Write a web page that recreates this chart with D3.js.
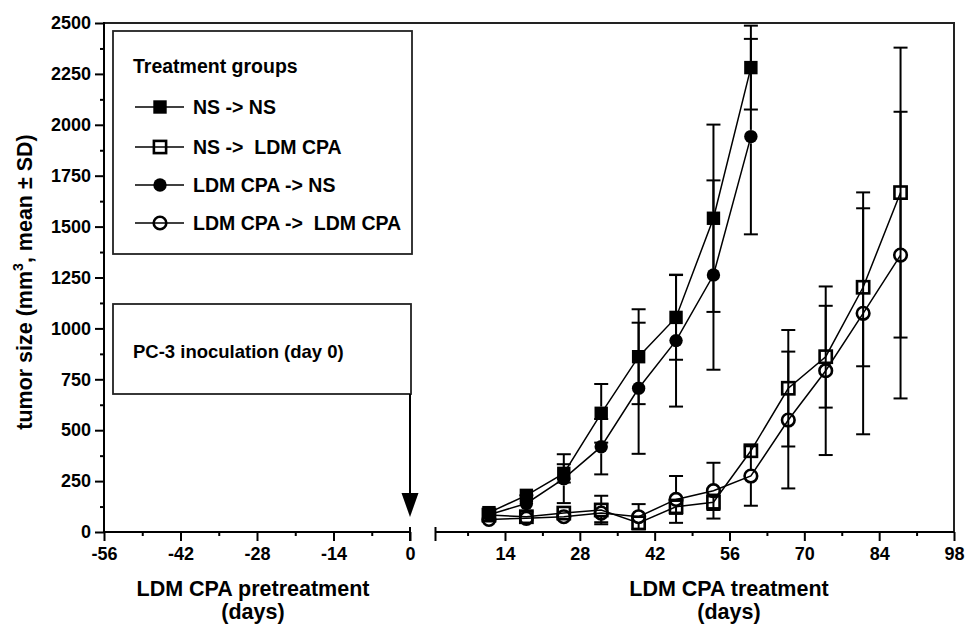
<!DOCTYPE html>
<html>
<head>
<meta charset="utf-8">
<script src="https://cdn.jsdelivr.net/npm/d3@7/dist/d3.min.js"></script>
<style>
  html, body { margin: 0; padding: 0; background: #fff; }
  svg text { font-family: "Liberation Sans", Arial, sans-serif; font-weight: bold; fill: #000; }
</style>
</head>
<body>
<div id="chart"></div>
<script>
// ---- data ----
const daysNS = [11, 18, 25, 32, 39, 46, 53, 60];
const daysLDM = [11, 18, 25, 32, 39, 46, 53, 60, 67, 74, 81, 88];

const nsNsMean = [95, 180, 288, 583, 861, 1054, 1541, 2281];
const nsNsSD = [20, 30, 45, 144, 233, 208, 460, 206];
const ldmNsMean = [85, 140, 262, 419, 706, 940, 1262, 1942];
const ldmNsSD = [15, 40, 120, 136, 322, 324, 465, 480];
const nsLdmMean = [83, 75, 93, 108, 45, 124, 146, 399, 706, 861, 1202, 1667];
const nsLdmSD = [20, 25, 25, 70, 20, 35, 38, 30, 286, 250, 388, 712];
const ldmLdmMean = [62, 67, 75, 93, 75, 160, 203, 275, 550, 792, 1074, 1360];
const ldmLdmSD = [15, 15, 20, 45, 62, 115, 137, 146, 336, 414, 594, 704];

const seriesNames = ["NS -> NS", "NS ->  LDM CPA", "LDM CPA -> NS", "LDM CPA ->  LDM CPA"];
const yTicks = [0, 250, 500, 750, 1000, 1250, 1500, 1750, 2000, 2250, 2500];
const preTicks = [-56, -42, -28, -14, 0];
const treatTicks = [14, 28, 42, 56, 70, 84, 98];

const series = [
    { name: seriesNames[0], days: daysNS, mean: nsNsMean, sd: nsNsSD, shape: "square", filled: true },
    { name: seriesNames[1], days: daysLDM, mean: nsLdmMean, sd: nsLdmSD, shape: "square", filled: false },
    { name: seriesNames[2], days: daysNS, mean: ldmNsMean, sd: ldmNsSD, shape: "circle", filled: true },
    { name: seriesNames[3], days: daysLDM, mean: ldmLdmMean, sd: ldmLdmSD, shape: "circle", filled: false }
];

const W = 965, H = 625;
const svg = d3.select("#chart").append("svg")
    .attr("width", W).attr("height", H);

// =============================
// SCALES
// =============================
const y = d3.scaleLinear().domain([0, 2500]).range([532, 23]);
const xPre = d3.scaleLinear().domain([-56, 0]).range([104, 410]);
const xTreat = d3.scaleLinear().domain([1, 98]).range([435.5, 954]);

const axisW = 2;
const plain = d => String(d);   // hyphen minus, no thousands separator

// =============================
// FRAME
// =============================
svg.append("path")
    .attr("d", `M104,${y(2500)}H954V532`)
    .attr("fill", "none").attr("stroke", "#222").attr("stroke-width", 2);

// =============================
// Y AXIS
// =============================
function styleAxis(g) {
    g.select(".domain").remove();
    g.selectAll("line").attr("stroke", "#000").attr("stroke-width", axisW);
    g.selectAll("text").style("font-size", "18px").attr("fill", "#000");
}

svg.append("g")
    .attr("transform", "translate(104,0)")
    .call(d3.axisLeft(y).tickValues(yTicks).tickSize(9).tickPadding(4).tickFormat(plain))
    .call(styleAxis);

svg.append("g")
    .attr("transform", "translate(104,0)")
    .call(d3.axisLeft(y).tickValues(yTicks.slice(0, -1).map(v => v + 125)).tickSize(4).tickFormat(""))
    .call(styleAxis);

svg.append("line")
    .attr("x1", 104).attr("x2", 104).attr("y1", y(2500) - 1).attr("y2", 533)
    .attr("stroke", "#000").attr("stroke-width", axisW);

// =============================
// X AXES (broken)
// =============================
const xAxisY = 532;

svg.append("g")
    .attr("transform", `translate(0,${xAxisY})`)
    .call(d3.axisBottom(xPre).tickValues(preTicks).tickSize(9).tickPadding(6).tickFormat(plain))
    .call(styleAxis);
svg.append("g")
    .attr("transform", `translate(0,${xAxisY})`)
    .call(d3.axisBottom(xPre).tickValues([-49, -35, -21, -7]).tickSize(4).tickFormat(""))
    .call(styleAxis);

svg.append("g")
    .attr("transform", `translate(0,${xAxisY})`)
    .call(d3.axisBottom(xTreat).tickValues(treatTicks).tickSize(9).tickPadding(6).tickFormat(plain))
    .call(styleAxis);
svg.append("g")
    .attr("transform", `translate(0,${xAxisY})`)
    .call(d3.axisBottom(xTreat).tickValues([7, 21, 35, 49, 63, 77, 91]).tickSize(4).tickFormat(""))
    .call(styleAxis);

// axis lines + end caps at the break
svg.append("line")
    .attr("x1", 103).attr("x2", xPre(0)).attr("y1", xAxisY).attr("y2", xAxisY)
    .attr("stroke", "#000").attr("stroke-width", axisW);
svg.append("line")
    .attr("x1", xTreat(1)).attr("x2", xTreat(98)).attr("y1", xAxisY).attr("y2", xAxisY)
    .attr("stroke", "#000").attr("stroke-width", axisW);
[xPre(0), xTreat(1)].forEach(px => {
    svg.append("line")
        .attr("x1", px).attr("x2", px).attr("y1", xAxisY - 5).attr("y2", xAxisY + 9)
        .attr("stroke", "#000").attr("stroke-width", axisW);
});

// =============================
// AXIS TITLES
// =============================
const yLab = svg.append("text")
    .attr("transform", "translate(32,282) rotate(-90)")
    .attr("text-anchor", "middle")
    .style("font-size", "21.5px");
yLab.append("tspan").text("tumor size (mm");
yLab.append("tspan").attr("dy", -9).style("font-size", "14px").text("3");
yLab.append("tspan").attr("dy", 9).text(", mean \u00B1 SD)");

svg.append("text").attr("x", 253).attr("y", 596).attr("text-anchor", "middle")
    .style("font-size", "21.5px").text("LDM CPA pretreatment");
svg.append("text").attr("x", 253).attr("y", 619).attr("text-anchor", "middle")
    .style("font-size", "21.5px").text("(days)");
svg.append("text").attr("x", 729).attr("y", 596).attr("text-anchor", "middle")
    .style("font-size", "21.5px").text("LDM CPA treatment");
svg.append("text").attr("x", 729).attr("y", 619).attr("text-anchor", "middle")
    .style("font-size", "21.5px").text("(days)");

// =============================
// MARKERS
// =============================
const half = 6.7;

function drawMarker(g, s, cx, cy) {
    if (s.shape === "square") {
        const h = s.filled ? half : half - 0.6;
        g.append("rect")
            .attr("x", cx - h).attr("y", cy - h)
            .attr("width", 2 * h).attr("height", 2 * h)
            .attr("fill", s.filled ? "#000" : "none")
            .attr("stroke", "#000")
            .attr("stroke-width", s.filled ? 0 : 2.6);
    } else {
        g.append("circle")
            .attr("cx", cx).attr("cy", cy)
            .attr("r", s.filled ? half : half - 0.4)
            .attr("fill", s.filled ? "#000" : "none")
            .attr("stroke", "#000")
            .attr("stroke-width", s.filled ? 0 : 2.6);
    }
}

// =============================
// SERIES
// =============================
const plot = svg.append("g");
const lineGen = d3.line().x(d => xTreat(d.day)).y(d => y(d.mean));

series.forEach(s => {
    s.points = s.days.map((d, i) => ({ day: d, mean: s.mean[i], sd: s.sd[i] }));
    plot.append("path")
        .datum(s.points)
        .attr("d", lineGen)
        .attr("fill", "none")
        .attr("stroke", "#000")
        .attr("stroke-width", 1.5);
});

// error bars (drawn outside the symbol)
const capW = 7;
series.forEach(s => {
    s.points.forEach(p => {
        const cx = xTreat(p.day), cy = y(p.mean);
        const top = y(p.mean + p.sd), bot = y(p.mean - p.sd);
        if (cy - top > half) {
            plot.append("line").attr("x1", cx).attr("x2", cx).attr("y1", cy - half).attr("y2", top)
                .attr("stroke", "#000").attr("stroke-width", 2);
            plot.append("line").attr("x1", cx - capW).attr("x2", cx + capW).attr("y1", top).attr("y2", top)
                .attr("stroke", "#000").attr("stroke-width", 2);
        }
        if (bot - cy > half) {
            plot.append("line").attr("x1", cx).attr("x2", cx).attr("y1", cy + half).attr("y2", bot)
                .attr("stroke", "#000").attr("stroke-width", 2);
            plot.append("line").attr("x1", cx - capW).attr("x2", cx + capW).attr("y1", bot).attr("y2", bot)
                .attr("stroke", "#000").attr("stroke-width", 2);
        }
    });
});

series.forEach(s => {
    s.points.forEach(p => drawMarker(plot, s, xTreat(p.day), y(p.mean)));
});

// =============================
// LEGEND
// =============================
const legend = svg.append("g");
legend.append("rect")
    .attr("x", 113).attr("y", 31).attr("width", 299).attr("height", 223)
    .attr("fill", "#fff").attr("stroke", "#222").attr("stroke-width", 1.8);
legend.append("text").attr("x", 133).attr("y", 72.5).style("font-size", "19.5px").text("Treatment groups");

const legendY = [107, 147, 185, 223];
series.forEach((s, i) => {
    const ly = legendY[i];
    legend.append("line").attr("x1", 135).attr("x2", 184).attr("y1", ly).attr("y2", ly)
        .attr("stroke", "#000").attr("stroke-width", 1.6);
    drawMarker(legend, s, 160, ly);
    legend.append("text").attr("x", 193).attr("y", ly + 7)
        .style("font-size", "19.5px").style("white-space", "pre")
        .text(s.name);
});

// =============================
// INOCULATION ANNOTATION
// =============================
svg.append("rect")
    .attr("x", 113).attr("y", 304).attr("width", 298).attr("height", 90)
    .attr("fill", "#fff").attr("stroke", "#222").attr("stroke-width", 1.8);
svg.append("text").attr("x", 133).attr("y", 358).style("font-size", "18.5px")
    .text("PC-3 inoculation (day 0)");
svg.append("line")
    .attr("x1", xPre(0)).attr("x2", xPre(0)).attr("y1", 394).attr("y2", 496)
    .attr("stroke", "#000").attr("stroke-width", 2);
svg.append("path")
    .attr("d", `M${xPre(0) - 8.5},493L${xPre(0) + 8.5},493L${xPre(0)},517Z`)
    .attr("fill", "#000");
</script>
</body>
</html>
